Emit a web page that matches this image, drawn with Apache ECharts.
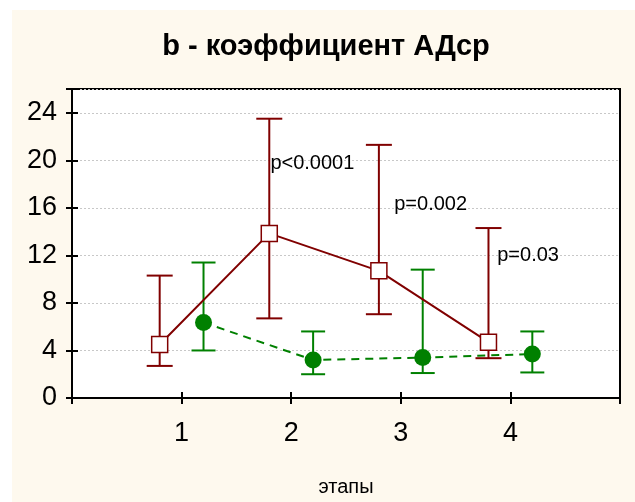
<!DOCTYPE html>
<html>
<head>
<meta charset="utf-8">
<script src="https://cdn.jsdelivr.net/npm/echarts@6/dist/echarts.min.js"></script>
<style>
  html, body { margin: 0; padding: 0; background: #ffffff; }
  #chart { width: 635px; height: 502px; }
</style>
</head>
<body>
<div id="chart"></div>
<script>
// Stages on the x axis
const stages = [1, 2, 3, 4];

// Group A (dark red, open squares): mean and error-bar limits
const groupAMean  = [4.5, 13.85, 10.7, 4.7];
const groupALow   = [2.7, 6.7, 7.05, 3.35];
const groupAHigh  = [10.3, 23.5, 21.3, 14.3];

// Group B (green, filled circles): mean and error-bar limits
const groupBMean  = [6.35, 3.2, 3.4, 3.7];
const groupBLow   = [4.0, 2.0, 2.1, 2.15];
const groupBHigh  = [11.4, 5.6, 10.8, 5.6];

// Significance annotations
const pTexts = ['p<0.0001', 'p=0.002', 'p=0.03'];
const pX     = [1.81, 2.94, 3.88];
const pY     = [19.7, 16.3, 12.0];

// Y axis ticks
const yTicks = [0, 4, 8, 12, 16, 20, 24];

const RED = '#800000';
const GREEN = '#008000';
const SHIFT = 0.2;
const FONT = 'Liberation Sans, Arial, sans-serif';

function points(mean, shift) {
  return stages.map((s, i) => [s + shift, mean[i]]);
}
function bars(low, high, shift) {
  return stages.map((s, i) => [s + shift, low[i], high[i]]);
}

function errorBar(color, capHalf) {
  return function (params, api) {
    const x = api.value(0);
    const lo = api.coord([x, api.value(1)]);
    const hi = api.coord([x, api.value(2)]);
    const style = { stroke: color, lineWidth: 2, fill: null };
    return {
      type: 'group',
      children: [
        { type: 'line', shape: { x1: lo[0], y1: lo[1], x2: hi[0], y2: hi[1] }, style },
        { type: 'line', shape: { x1: hi[0] - capHalf, y1: hi[1], x2: hi[0] + capHalf, y2: hi[1] }, style },
        { type: 'line', shape: { x1: lo[0] - capHalf, y1: lo[1], x2: lo[0] + capHalf, y2: lo[1] }, style }
      ]
    };
  };
}

const chart = echarts.init(document.getElementById('chart'), null, { renderer: 'canvas' });

const tickFont = { fontFamily: FONT, fontSize: 27, color: '#000' };
const frameAxis = {
  axisLine: { show: true, lineStyle: { color: '#000', width: 2 } },
  axisTick: { show: true, inside: true, length: 6, lineStyle: { color: '#000', width: 2 } }
};

chart.setOption({
  animation: false,
  backgroundColor: '#ffffff',
  graphic: [{
    type: 'rect', z: -10, silent: true,
    shape: { x: 12, y: 10, width: 640, height: 500 },
    style: { fill: '#FEF9EE' }
  }],
  title: {
    text: 'b - коэффициент АДср',
    left: 321, top: 27, textAlign: 'center',
    textStyle: { fontFamily: FONT, fontSize: 29, fontWeight: 'bold', color: '#000' }
  },
  grid: {
    left: 72, top: 89, width: 548, height: 313,
    show: true, backgroundColor: '#ffffff', borderColor: '#000', borderWidth: 2
  },
  xAxis: [Object.assign({
    type: 'value', min: 0, max: 5, interval: 1,
    position: 'bottom',
    name: 'этапы', nameLocation: 'middle', nameGap: 79,
    nameTextStyle: { fontFamily: FONT, fontSize: 20, color: '#000' },
    axisLabel: Object.assign({ margin: 22, formatter: v => (stages.indexOf(v) >= 0 ? String(v) : '') }, tickFont),
    splitLine: { show: false }
  }, frameAxis), Object.assign({
    type: 'value', min: 0, max: 5, interval: 1,
    position: 'top',
    axisLabel: { show: false },
    splitLine: { show: false }
  }, frameAxis)],
  yAxis: [Object.assign({
    type: 'value', min: 0, max: 26, interval: 4,
    axisLabel: Object.assign({ margin: 15, formatter: v => (yTicks.indexOf(v) >= 0 ? String(v) : '') }, tickFont),
    splitLine: {
      show: true,
      lineStyle: { color: '#c8c8c8', type: [2, 2], width: 1 }
    }
  }, frameAxis), Object.assign({
    type: 'value', min: 0, max: 26, interval: 4,
    position: 'right',
    axisLabel: { show: false },
    splitLine: { show: false }
  }, frameAxis)],
  series: [
    {
      type: 'custom', name: 'A bars', xAxisIndex: 0, yAxisIndex: 0, z: 2,
      renderItem: errorBar(RED, 13),
      encode: { x: 0, y: [1, 2] },
      data: bars(groupALow, groupAHigh, -SHIFT)
    },
    {
      type: 'custom', name: 'B bars', xAxisIndex: 0, yAxisIndex: 0, z: 2,
      renderItem: errorBar(GREEN, 12),
      encode: { x: 0, y: [1, 2] },
      data: bars(groupBLow, groupBHigh, SHIFT)
    },
    {
      type: 'line', name: 'B', z: 3,
      data: points(groupBMean, SHIFT),
      lineStyle: { color: GREEN, width: 2, type: [8, 6] },
      symbol: 'circle', symbolSize: 17,
      itemStyle: { color: GREEN, borderColor: GREEN, borderWidth: 0 }
    },
    {
      type: 'line', name: 'A', z: 4,
      data: points(groupAMean, -SHIFT),
      lineStyle: { color: RED, width: 2 },
      symbol: 'rect', symbolSize: 16,
      itemStyle: { color: '#ffffff', borderColor: RED, borderWidth: 1.5 }
    },
    {
      type: 'scatter', name: 'p', z: 5,
      symbolSize: 0,
      itemStyle: { opacity: 1 },
      data: pTexts.map((t, i) => ({ value: [pX[i], pY[i]], name: t })),
      label: {
        show: true, position: 'right', distance: 0,
        formatter: p => p.name,
        fontFamily: FONT, fontSize: 20, color: '#000000', opacity: 1
      }
    }
  ]
});
</script>
</body>
</html>
